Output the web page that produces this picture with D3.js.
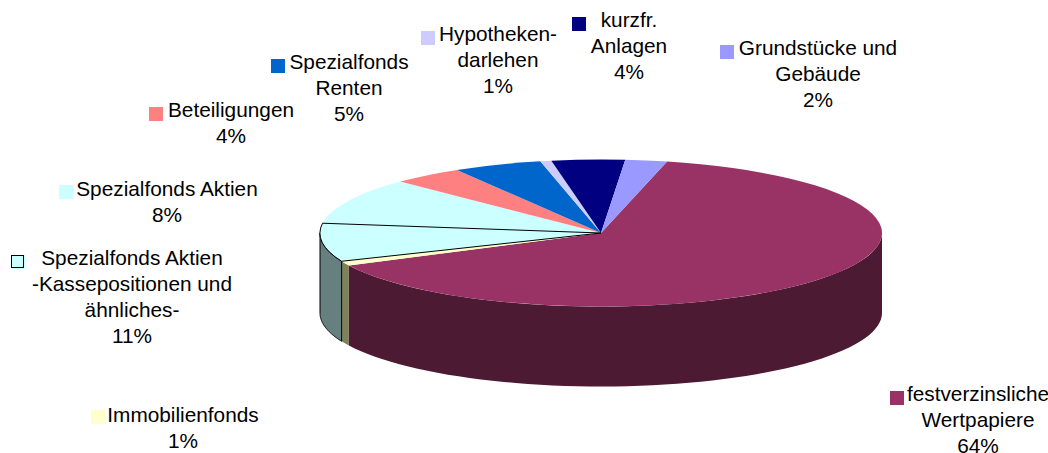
<!DOCTYPE html>
<html>
<head>
<meta charset="utf-8">
<script src="https://cdn.jsdelivr.net/npm/d3@7"></script>
<style>
  html, body { margin: 0; padding: 0; background: #fff; }
  svg { display: block; }
  text { font-family: "Liberation Sans", Arial, sans-serif; font-size: 20.8px; fill: #000; }
</style>
</head>
<body>
<main></main>
<script>
// clockwise from the start angle
const categories = [
  ["festverzinsliche", "Wertpapiere"],
  ["Immobilienfonds"],
  ["Spezialfonds Aktien", "-Kassepositionen und", "ähnliches-"],
  ["Spezialfonds Aktien"],
  ["Beteiligungen"],
  ["Spezialfonds", "Renten"],
  ["Hypotheken-", "darlehen"],
  ["kurzfr.", "Anlagen"],
  ["Grundstücke und", "Gebäude"],
]
const percentLabels = ["64%", "1%", "11%", "8%", "4%", "5%", "1%", "4%", "2%"]
// share of the circle as read off the drawn slices, not always the printed label
const sliceShares = [63.9, 1.0, 8.4, 10.2, 4.1, 5.1, 0.64, 4.2, 2.4]

const colors = ["#993366", "#FFFFCC", "#CCFFFF", "#CCFFFF", "#FF8080", "#0066CC", "#CCCCFF", "#000080", "#9999FF"]
const wallColors = ["#4D1A33", "#80805F", "#667F7F", "#667F7F", "#804040", "#003366", "#666680", "#000040", "#4D4D80"]
const outlined = [2]

// label centre x, first baseline, key left, key top
const labelLayout = [
  [978, 401, 890, 391],
  [183, 422, 91, 410],
  [132, 265, 11, 255],
  [167, 196, 59, 185],
  [231, 117, 149, 107],
  [349, 69, 271, 59],
  [498, 41, 421, 31],
  [629, 27, 572, 17],
  [818, 55, 720, 45],
]

const w = 1048
const h = 453
const cx = 601
const cy = 233
const rx = 281
const ry = 73.5
const depth = 80
const lineH = 26
const keySize = 14
const startAngle = (13.6 * Math.PI) / 180

const svg = d3.select("main").append("svg").attr("width", w).attr("height", h)

const pie = d3
  .pie()
  .sort(null)
  .startAngle(startAngle)
  .endAngle(startAngle + 2 * Math.PI)
const slices = pie(sliceShares)

// side wall, only the front half of the ellipse shows
const wall = d3
  .area()
  .x((a) => cx + rx * Math.sin(a))
  .y0((a) => cy - ry * Math.cos(a))
  .y1((a) => cy - ry * Math.cos(a) + depth)

const frontAngles = (d) => {
  const from = Math.max(d.startAngle, Math.PI / 2)
  const to = Math.min(d.endAngle, (3 * Math.PI) / 2)
  if (from >= to) return []
  return d3.range(0, 61).map((i) => from + ((to - from) * i) / 60)
}

svg
  .append("g")
  .selectAll("path")
  .data(slices.filter((d) => frontAngles(d).length))
  .enter()
  .append("path")
  .attr("d", (d) => wall(frontAngles(d)))
  .attr("fill", (d) => wallColors[d.index])
  .attr("stroke", (d) => (outlined.includes(d.index) ? "#000" : "none"))
  .attr("stroke-width", 1)

// top face: a flat pie squashed into the ellipse
const arc = d3.arc().innerRadius(0).outerRadius(rx)

const topFace = svg
  .append("g")
  .attr("transform", `translate(${cx}, ${cy}) scale(1, ${ry / rx})`)

topFace
  .selectAll("path")
  .data(slices)
  .enter()
  .append("path")
  .attr("d", arc)
  .attr("fill", (d) => colors[d.index])

topFace
  .selectAll("path.outline")
  .data(slices.filter((d) => outlined.includes(d.index)))
  .enter()
  .append("path")
  .attr("class", "outline")
  .attr("d", arc)
  .attr("fill", "none")
  .attr("stroke", "#000")
  .attr("stroke-width", 1)
  .attr("vector-effect", "non-scaling-stroke")

const labels = svg
  .append("g")
  .selectAll("g")
  .data(categories)
  .enter()
  .append("g")

labels
  .append("rect")
  .attr("x", (d, i) => labelLayout[i][2])
  .attr("y", (d, i) => labelLayout[i][3])
  .attr("width", keySize)
  .attr("height", keySize)
  .attr("fill", (d, i) => colors[i])

labels
  .filter((d, i) => outlined.includes(i))
  .append("rect")
  .attr("x", (d) => labelLayout[categories.indexOf(d)][2] + 0.5)
  .attr("y", (d) => labelLayout[categories.indexOf(d)][3] + 0.5)
  .attr("width", keySize - 2)
  .attr("height", keySize - 2)
  .attr("fill", "none")
  .attr("stroke", "#000")

labels
  .append("text")
  .attr("text-anchor", "middle")
  .selectAll("tspan")
  .data((d, i) => [...d, percentLabels[i]].map((t) => ({ t, i })))
  .enter()
  .append("tspan")
  .attr("x", (d) => labelLayout[d.i][0])
  .attr("y", (d, k) => labelLayout[d.i][1] + k * lineH)
  .text((d) => d.t)
</script>
</body>
</html>
